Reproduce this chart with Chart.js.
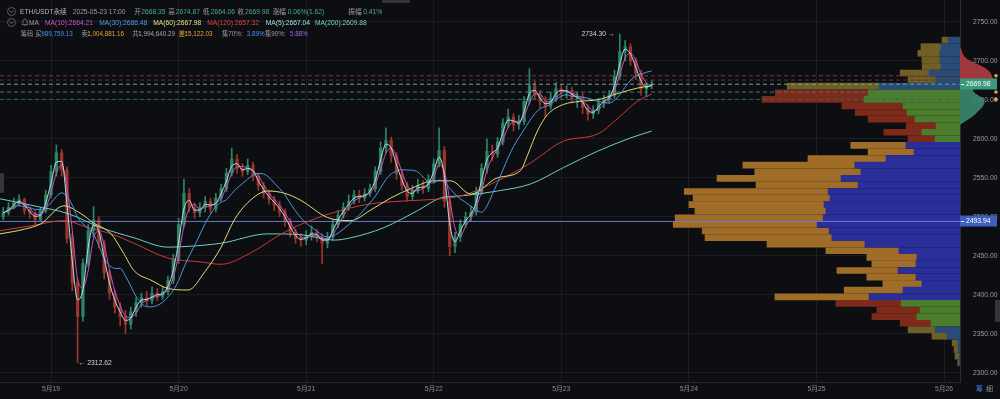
<!DOCTYPE html>
<html>
<head>
<meta charset="utf-8">
<title>ETH/USDT永续</title>
<script src="https://cdn.jsdelivr.net/npm/chart.js@4.4.1/dist/chart.umd.min.js"></script>
<style>
  html, body { margin: 0; padding: 0; background: #0d0e11; }
  #wrap { position: relative; width: 1000px; height: 399px; overflow: hidden; background: #0d0e11; }
  #grafico { position: absolute; left: 0; top: 0; }
  .row { position: absolute; left: 0; height: 9px; }
  .row span { position: absolute; top: 0; font-family: "Liberation Sans", "Noto Sans CJK SC", sans-serif; font-size: 6.7px; line-height: 9px; white-space: nowrap; color: #9a9da3; }
  .row.small span { font-size: 6.3px; }
  .row .g { color: #47b088; }
  .tab { position: absolute; background: #34363b; border-radius: 1px; }
  .foot { position: absolute; top: 384px; font-family: "Noto Sans CJK SC", sans-serif; font-size: 7px; line-height: 9px; }
</style>
</head>
<body>
<div id="wrap">
  <canvas id="grafico" width="1000" height="399"></canvas>

  <svg style="position:absolute;left:6px;top:6px" width="11" height="11"><circle cx="5.5" cy="5.5" r="4" fill="none" stroke="#6c6f75" stroke-width="0.8"/><polyline points="3.6,4.8 5.5,6.6 7.4,4.8" fill="none" stroke="#8a8d93" stroke-width="0.8"/></svg>
  <svg style="position:absolute;left:6px;top:17px" width="11" height="11"><circle cx="5.5" cy="5.5" r="4" fill="none" stroke="#6c6f75" stroke-width="0.8"/><polyline points="3.6,4.8 5.5,6.6 7.4,4.8" fill="none" stroke="#8a8d93" stroke-width="0.8"/></svg>
  <svg style="position:absolute;left:21px;top:18px" width="8" height="9"><path d="M4 1.2 C2.3 1.2 1.8 2.6 1.8 4 L1.8 5.6 L1 6.6 L7 6.6 L6.2 5.6 L6.2 4 C6.2 2.6 5.7 1.2 4 1.2 Z M3.2 7.3 L4.8 7.3" fill="none" stroke="#8a8d93" stroke-width="0.7"/></svg>

  <div class="row" style="top:6.5px">
    <span style="left:20px;color:#b5b8bd">ETH/USDT永续</span>
    <span style="left:72.7px">2025-05-23 17:00</span>
    <span style="left:134.3px">开</span><span class="g" style="left:141.3px">2668.35</span>
    <span style="left:168.3px">高</span><span class="g" style="left:175.7px">2674.87</span>
    <span style="left:202.7px">低</span><span class="g" style="left:210.7px">2664.06</span>
    <span style="left:237.3px">收</span><span class="g" style="left:245px">2669.98</span>
    <span style="left:272.7px">涨幅</span><span class="g" style="left:287.7px">0.06%(1.62)</span>
    <span style="left:348.3px">振幅</span><span class="g" style="left:363.3px">0.41%</span>
  </div>
  <div class="row" style="top:17.5px">
    <span style="left:29px">MA</span>
    <span style="left:45px;color:#d452c0">MA(10):2664.21</span>
    <span style="left:99.3px;color:#4f9fe8">MA(30):2686.48</span>
    <span style="left:153.3px;color:#e3e388">MA(60):2667.98</span>
    <span style="left:207.3px;color:#e0434a">MA(120):2657.32</span>
    <span style="left:265.7px;color:#9fe0dc">MA(5):2667.04</span>
    <span style="left:315px;color:#79d2cc">MA(200):2609.88</span>
  </div>
  <div class="row small" style="top:28.5px">
    <span style="left:20.7px">筹码</span>
    <span style="left:35.2px">买:</span><span style="left:41.3px;color:#4a8ff0">989,759.13</span>
    <span style="left:81.5px">卖:</span><span style="left:87.3px;color:#eba534">1,004,881.16</span>
    <span style="left:132.2px">共:</span><span style="left:138.3px;color:#a3a6ab">1,994,640.29</span>
    <span style="left:178.8px;color:#e9a02f">差:</span><span style="left:184.6px;color:#eba534">15,122.03</span>
    <span style="left:222px">集70%:</span><span style="left:246.7px;color:#4a8ff0">3.89%</span>
    <span style="left:265px">集90%:</span><span style="left:290px;color:#9b6cf0">5.88%</span>
  </div>

  <div class="tab" style="left:0;top:173px;width:4px;height:20px"></div>
  <div class="tab" style="left:995px;top:300px;width:5px;height:22px"></div>
  <div class="tab" style="left:382px;top:0;width:28px;height:3px"></div>
  <span class="foot" style="left:976px;color:#3c7ef0">筹</span>
  <span class="foot" style="left:986px;color:#8d9095">细</span>
</div>

<script>
// hourly candles, hour 0 = 5月19 00:00, first candle 5月18 15:00, last 5月23 17:00
const firstHour = -9;
const firstOpen = 2500;

const closes = [
  2505, 2512, 2518, 2522, 2508, 2505, 2496, 2508, 2528,
  2558, 2582, 2560, 2472, 2415, 2372, 2440, 2482, 2496, 2466,
  2428, 2402, 2384, 2372, 2362, 2378, 2390, 2396, 2392, 2402,
  2398, 2404, 2418, 2445, 2490, 2530, 2512, 2505, 2512, 2520,
  2510, 2524, 2536, 2556, 2574, 2562, 2558, 2566, 2552, 2540,
  2530, 2522, 2515, 2506, 2494, 2480, 2472, 2470, 2476, 2480,
  2474, 2466, 2474, 2490, 2502, 2512, 2520, 2528, 2524, 2530,
  2536, 2558, 2588, 2598, 2578, 2555, 2540, 2526, 2534, 2540,
  2536, 2548, 2568, 2585, 2520, 2462, 2474, 2490, 2500, 2506,
  2532, 2562, 2584, 2580, 2596, 2620, 2628, 2618, 2622, 2648,
  2668, 2656, 2648, 2642, 2652, 2664, 2660, 2662, 2652, 2654,
  2640, 2632, 2636, 2646, 2650, 2656, 2680, 2712, 2718, 2700,
  2684, 2664, 2668.35, 2669.98
];
const highs = [
  2512, 2518, 2524, 2528, 2524, 2512, 2508, 2512, 2534,
  2566, 2592, 2586, 2564, 2478, 2420, 2446, 2490, 2513, 2500,
  2470, 2432, 2406, 2390, 2380, 2384, 2396, 2402, 2404, 2410,
  2408, 2410, 2424, 2452, 2498, 2548, 2536, 2518, 2518, 2526,
  2524, 2530, 2542, 2562, 2588, 2580, 2568, 2574, 2570, 2556,
  2544, 2534, 2526, 2520, 2510, 2498, 2484, 2478, 2482, 2488,
  2484, 2478, 2480, 2496, 2508, 2518, 2528, 2534, 2534, 2536,
  2542, 2564, 2596, 2614, 2602, 2582, 2560, 2544, 2540, 2548,
  2546, 2554, 2574, 2614, 2590, 2524, 2480, 2496, 2506, 2514,
  2538, 2568, 2600, 2592, 2602, 2626, 2638, 2632, 2630, 2654,
  2690, 2674, 2662, 2654, 2660, 2672, 2670, 2668, 2666, 2660,
  2658, 2644, 2642, 2652, 2656, 2662, 2688, 2734.30, 2726, 2722,
  2704, 2688, 2672, 2674.87
];
const lows = [
  2496, 2502, 2510, 2514, 2503, 2498, 2490, 2494, 2505,
  2524, 2552, 2552, 2466, 2405, 2312.62, 2366, 2436, 2474, 2460,
  2420, 2394, 2376, 2360, 2350, 2356, 2372, 2384, 2386, 2388,
  2392, 2394, 2400, 2414, 2440, 2486, 2506, 2498, 2500, 2506,
  2504, 2506, 2520, 2532, 2552, 2556, 2552, 2554, 2546, 2534,
  2524, 2516, 2508, 2500, 2488, 2474, 2466, 2462, 2464, 2470,
  2468, 2440, 2460, 2470, 2486, 2498, 2508, 2516, 2518, 2520,
  2526, 2532, 2554, 2582, 2570, 2548, 2534, 2520, 2522, 2530,
  2530, 2532, 2544, 2564, 2512, 2450, 2454, 2468, 2486, 2494,
  2502, 2528, 2556, 2572, 2576, 2592, 2614, 2610, 2612, 2618,
  2644, 2650, 2640, 2628, 2638, 2648, 2652, 2652, 2646, 2640,
  2632, 2624, 2626, 2632, 2640, 2646, 2652, 2676, 2700, 2694,
  2676, 2656, 2654, 2664.06
];

// longer averages
const ma60Hours = [-9.6, -5, -1.9, 2.4, 5.6, 8, 11.3, 13.5, 15.6, 19, 22, 25.8, 29, 32, 34.4, 37, 40.8, 44, 47, 52, 56.4, 60, 63.9, 68, 72, 75.2, 79, 84, 88.3, 89.7, 91.5, 93.4, 96.4, 99.5, 102.8, 106.6, 110.3, 113];
const ma60Values = [2478, 2484, 2491, 2514, 2504, 2492, 2478, 2455, 2431, 2418, 2408, 2406, 2430, 2461, 2495, 2518, 2533, 2530, 2521, 2499, 2495, 2508, 2524, 2537, 2546, 2546, 2529, 2550, 2559, 2580, 2610, 2631, 2644, 2648, 2650, 2658, 2665, 2667.98];
const ma120Hours = [-9.6, -3.2, 2.3, 7, 11.3, 15.6, 22, 28.2, 32, 37.4, 43.6, 48.7, 53, 59.6, 65.8, 71.4, 77.3, 84, 90.2, 96.4, 102.8, 106.6, 110.3, 113];
const ma120Values = [2482, 2489, 2495, 2486, 2478, 2466, 2447, 2442, 2439, 2453, 2479, 2495, 2505, 2516, 2520, 2522, 2527, 2546, 2569, 2597, 2606, 2626, 2648, 2657.32];
const ma200Hours = [-9.6, -3.2, 3.2, 9.4, 15.6, 22, 25.8, 32, 40.8, 47, 53.2, 56.4, 62.6, 69, 73.3, 77.6, 84, 90.2, 96.4, 102.8, 109, 113];
const ma200Values = [2523, 2514, 2504, 2486, 2473, 2461, 2462, 2466, 2478, 2477, 2470, 2473, 2486, 2508, 2524, 2527, 2533, 2542, 2563, 2584, 2601, 2609.88];

// 筹码分布 (buy / sell per price bin, 千)
const profilePrices = [2730.4, 2722.0, 2713.5, 2705.1, 2696.6, 2688.2, 2679.7, 2671.3, 2662.9, 2654.4, 2646.0, 2637.5, 2629.1, 2620.6, 2612.2, 2603.8, 2595.3, 2586.9, 2578.4, 2570.0, 2561.5, 2553.1, 2544.6, 2536.2, 2527.8, 2519.3, 2510.9, 2502.4, 2494.0, 2485.5, 2477.1, 2468.7, 2460.2, 2451.8, 2443.3, 2434.9, 2426.4, 2418.0, 2409.6, 2401.1, 2392.7, 2384.2, 2375.8, 2367.3, 2358.9, 2350.5, 2342.0, 2333.6, 2325.1, 2316.7];
const profileBuy = [3.8, 6.0, 6.4, 6.4, 6.0, 9.8, 7.6, 25.7, 29.2, 30.5, 18.1, 16.8, 14.3, 7.6, 12.1, 7.9, 17.2, 14.6, 23.5, 33.4, 31.5, 37.8, 32.4, 41.9, 41.3, 43.2, 42.6, 43.5, 45.4, 41.6, 40.7, 30.2, 19.4, 13.7, 14.0, 19.7, 14.0, 12.1, 18.1, 28.9, 18.7, 12.7, 13.7, 9.2, 7.9, 4.1, 0.6, 0.6, 0.3, 0.2];
const profileSell = [1.9, 6.4, 7.0, 5.7, 6.0, 9.2, 8.9, 29.2, 29.5, 32.4, 19.4, 16.5, 14.9, 9.5, 12.1, 8.6, 17.5, 14.6, 24.8, 35.6, 33.7, 39.4, 32.4, 45.7, 43.5, 42.9, 41.6, 47.0, 45.7, 40.3, 40.3, 31.1, 23.2, 15.9, 14.0, 19.4, 15.6, 12.4, 18.7, 29.9, 20.7, 13.7, 14.3, 9.8, 8.6, 4.8, 1.9, 1.3, 1.3, 0.5];

// density curve beside the price axis
const curveUpPrices = [2718, 2716, 2712, 2708, 2703, 2699, 2695, 2691, 2687, 2684, 2680, 2677, 2672];
const curveUpDensity = [0, 1, 2, 3, 6, 12, 19, 25, 29, 31, 32, 33, 33];
const curveDownPrices = [2668, 2666, 2663, 2660, 2656, 2652, 2648, 2644, 2640, 2635, 2631, 2626, 2622, 2618];
const curveDownDensity = [14, 15, 13, 13, 18, 23, 25, 24, 22, 18, 15, 10, 5, 0];

const levelPrices = [2680.8, 2675.3, 2669.98, 2659.9, 2650.5];
const pocPrice = 2493.94;

const dayTickHours = [0, 24, 48, 72, 96, 120, 144, 168];
const dayLabels = ['5月19', '5月20', '5月21', '5月22', '5月23', '5月24', '5月25', '5月26'];
const priceTicks = [2300, 2350, 2400, 2450, 2500, 2550, 2600, 2650, 2700, 2750];

const X_MIN = -9.6, X_MAX = 171;
const Y_MIN = 2288, Y_MAX = 2778;
const PROFILE_MAX = 305;
const FONT = '"Liberation Sans", "Noto Sans CJK SC", sans-serif';

function movingAverage(values, win) {
    return values.map((v, i) => {
        const part = values.slice(Math.max(0, i - win + 1), i + 1);
        return part.reduce((a, b) => a + b, 0) / part.length;
    });
}

const hours = closes.map((c, i) => firstHour + i);
const opens = closes.map((c, i) => (i === 0 ? firstOpen : closes[i - 1]));
const pts = (xs, ys) => xs.map((x, i) => ({ x: x, y: ys[i] }));

// 15分钟周期的均线, 折算成小时窗口
const ma5 = movingAverage(closes, 2);
const ma10 = movingAverage(closes, 3);
const ma30 = movingAverage(closes, 8);

const candleColor = c => (closes[c.dataIndex] >= opens[c.dataIndex] ? '#2e8566' : '#a0322c');

function zoneOf(p) {
    if (p > 2667) return 0;
    if (p > 2599) return 1;
    if (p > 2397) return 2;
    if (p > 2363) return 1;
    return 0;
}
const innerColors = ['#284b78', '#4b7d2d', '#2a2e98'];
const outerColors = ['#6f5f26', '#7d2a1b', '#a06d28'];
const levelColors = ['#7c3636', '#6a3030', '#62a898', '#3f7d72', '#2f675f'];
const curveUnit = PROFILE_MAX / 960;

const maLine = (data, color, tension) => ({
    type: 'line', xAxisID: 'x', yAxisID: 'y', data: data, borderColor: color,
    borderWidth: 1, pointRadius: 0, tension: tension, cubicInterpolationMode: 'monotone', order: 1
});

const datasets = [
    maLine(pts(hours, ma5), '#a9e4df', 0.3),
    maLine(pts(hours, ma10), '#d04fbd', 0.3),
    maLine(pts(hours, ma30), '#4a98e0', 0.3),
    maLine(pts(ma60Hours, ma60Values), '#dede7c', 0.4),
    maLine(pts(ma120Hours, ma120Values), '#cf3838', 0.4),
    maLine(pts(ma200Hours, ma200Values), '#6fcfc0', 0.4),
    {
        type: 'line', xAxisID: 'x', yAxisID: 'y', order: 2,
        data: [{ x: X_MIN, y: pocPrice }, { x: X_MAX, y: pocPrice }],
        borderColor: 'rgba(105,125,215,0.95)', borderWidth: 1, pointRadius: 0
    },
    ...levelPrices.map((p, i) => ({
        type: 'line', xAxisID: 'x', yAxisID: 'y', order: 2,
        data: [{ x: X_MIN, y: p }, { x: X_MAX, y: p }],
        borderColor: levelColors[i], borderWidth: 1, borderDash: [4, 3], pointRadius: 0
    })),
    {
        type: 'bar', xAxisID: 'x', yAxisID: 'y', order: 3, grouped: false,
        barPercentage: 1, categoryPercentage: 1, maxBarThickness: 2.6, minBarLength: 1,
        data: hours.map((h, i) => ({ x: h, y: [opens[i], closes[i]] })),
        backgroundColor: candleColor
    },
    {
        type: 'bar', xAxisID: 'x', yAxisID: 'y', order: 4, grouped: false,
        barPercentage: 1, categoryPercentage: 1, maxBarThickness: 1,
        data: hours.map((h, i) => ({ x: h, y: [lows[i], highs[i]] })),
        backgroundColor: candleColor
    },
    {
        type: 'bar', indexAxis: 'y', xAxisID: 'x2', yAxisID: 'y', stack: 'profile', order: 5, barThickness: 6,
        data: profilePrices.map((p, i) => ({ y: p, x: [0, profileBuy[i]] })),
        backgroundColor: c => innerColors[zoneOf(profilePrices[c.dataIndex])]
    },
    {
        type: 'bar', indexAxis: 'y', xAxisID: 'x2', yAxisID: 'y', stack: 'profile', order: 5, barThickness: 6,
        data: profilePrices.map((p, i) => ({ y: p, x: [profileBuy[i], profileBuy[i] + profileSell[i]] })),
        backgroundColor: c => outerColors[zoneOf(profilePrices[c.dataIndex])]
    }
];

// density curve in the axis strip, drawn through the profile and price scales
const curvePlugin = {
    id: 'axisCurve',
    afterDatasetsDraw(chart) {
        const { ctx } = chart;
        const x2 = chart.scales.x2, y = chart.scales.y;
        const drawCurve = (prices, dens, color) => {
            const p = prices.map((v, i) => [x2.getPixelForValue(-dens[i] * curveUnit), y.getPixelForValue(v)]);
            ctx.beginPath();
            ctx.moveTo(x2.getPixelForValue(0), p[0][1]);
            ctx.lineTo(p[0][0], p[0][1]);
            for (let i = 1; i < p.length - 1; i++) {
                const mx = (p[i][0] + p[i + 1][0]) / 2, my = (p[i][1] + p[i + 1][1]) / 2;
                ctx.quadraticCurveTo(p[i][0], p[i][1], mx, my);
            }
            ctx.lineTo(p[p.length - 1][0], p[p.length - 1][1]);
            ctx.lineTo(x2.getPixelForValue(0), p[p.length - 1][1]);
            ctx.closePath();
            ctx.fillStyle = color;
            ctx.fill();
        };
        ctx.save();
        drawCurve(curveUpPrices, curveUpDensity, 'rgba(176,62,64,0.9)');
        drawCurve(curveDownPrices, curveDownDensity, 'rgba(58,138,110,0.9)');
        ctx.restore();
    }
};

const labelPlugin = {
    id: 'priceLabels',
    afterDraw(chart) {
        const { ctx, chartArea } = chart;
        const x = chart.scales.x, y = chart.scales.y;
        ctx.save();
        ctx.font = '6.8px ' + FONT;
        ctx.textBaseline = 'middle';

        const hi = highs.indexOf(Math.max(...highs));
        const lo = lows.indexOf(Math.min(...lows));
        ctx.fillStyle = '#d3d5d9';
        ctx.textAlign = 'right';
        ctx.fillText(highs[hi].toFixed(2) + ' →', x.getPixelForValue(hours[hi]) - 5, y.getPixelForValue(highs[hi]));
        ctx.textAlign = 'left';
        ctx.fillText('← ' + lows[lo].toFixed(2), x.getPixelForValue(hours[lo]) + 1, y.getPixelForValue(lows[lo]));

        const box = (value, bg) => {
            const py = Math.round(y.getPixelForValue(value));
            ctx.fillStyle = bg;
            ctx.fillRect(chartArea.right, py - 5.5, 37, 11);
            ctx.fillStyle = '#ffffff';
            ctx.fillRect(chartArea.right + 1, py, 3, 1);
            ctx.fillText(value.toFixed(2), chartArea.right + 6, py + 0.5);
        };
        box(closes[closes.length - 1], '#3a9a7c');
        box(pocPrice, '#3c5fc0');

        ctx.fillStyle = '#eaa23a';
        [levelPrices[0], levelPrices[3], levelPrices[4]].forEach(p => {
            ctx.beginPath();
            ctx.arc(996, y.getPixelForValue(p), 1.8, 0, Math.PI * 2);
            ctx.fill();
        });
        ctx.restore();
    }
};

const tickFont = { family: FONT, size: 6.8 };

new Chart(document.getElementById('grafico'), {
    type: 'bar',
    data: { datasets: datasets },
    options: {
        responsive: false,
        animation: false,
        devicePixelRatio: 1,
        layout: { padding: 0 },
        plugins: { legend: { display: false }, tooltip: { enabled: false } },
        scales: {
            x: {
                type: 'linear', min: X_MIN, max: X_MAX, offset: false,
                grid: { color: '#1b1d21', drawTicks: false, offset: false },
                border: { display: true, color: '#26282c' },
                ticks: { color: '#8a8d92', font: tickFont, padding: 3, maxRotation: 0, autoSkip: false,
                    callback: v => dayLabels[dayTickHours.indexOf(v)] || '' },
                afterBuildTicks: s => { s.ticks = dayTickHours.map(v => ({ value: v })); },
                afterFit: s => { s.height = 17; s.paddingLeft = 0; s.paddingRight = 0; }
            },
            x2: { type: 'linear', display: false, reverse: true, min: 0, max: PROFILE_MAX, offset: false, stacked: false, grid: { offset: false } },
            y: {
                type: 'linear', position: 'right', min: Y_MIN, max: Y_MAX, z: 1, offset: false,
                grid: { display: false, offset: false },
                border: { display: true, color: '#2b2d31' },
                ticks: { color: '#9a9ca2', font: tickFont, padding: 5, callback: v => v.toFixed(2) },
                afterBuildTicks: s => { s.ticks = priceTicks.map(v => ({ value: v })); },
                afterFit: s => { s.width = 40; s.paddingTop = 0; s.paddingBottom = 0; }
            },
            yGrid: {
                type: 'linear', position: 'left', min: Y_MIN, max: Y_MAX, offset: false,
                grid: { color: '#1b1d21', drawTicks: false, offset: false },
                border: { display: false },
                ticks: { display: false },
                afterBuildTicks: s => { s.ticks = priceTicks.map(v => ({ value: v })); },
                afterFit: s => { s.width = 0; }
            }
        }
    },
    plugins: [curvePlugin, labelPlugin]
});
</script>
</body>
</html>
